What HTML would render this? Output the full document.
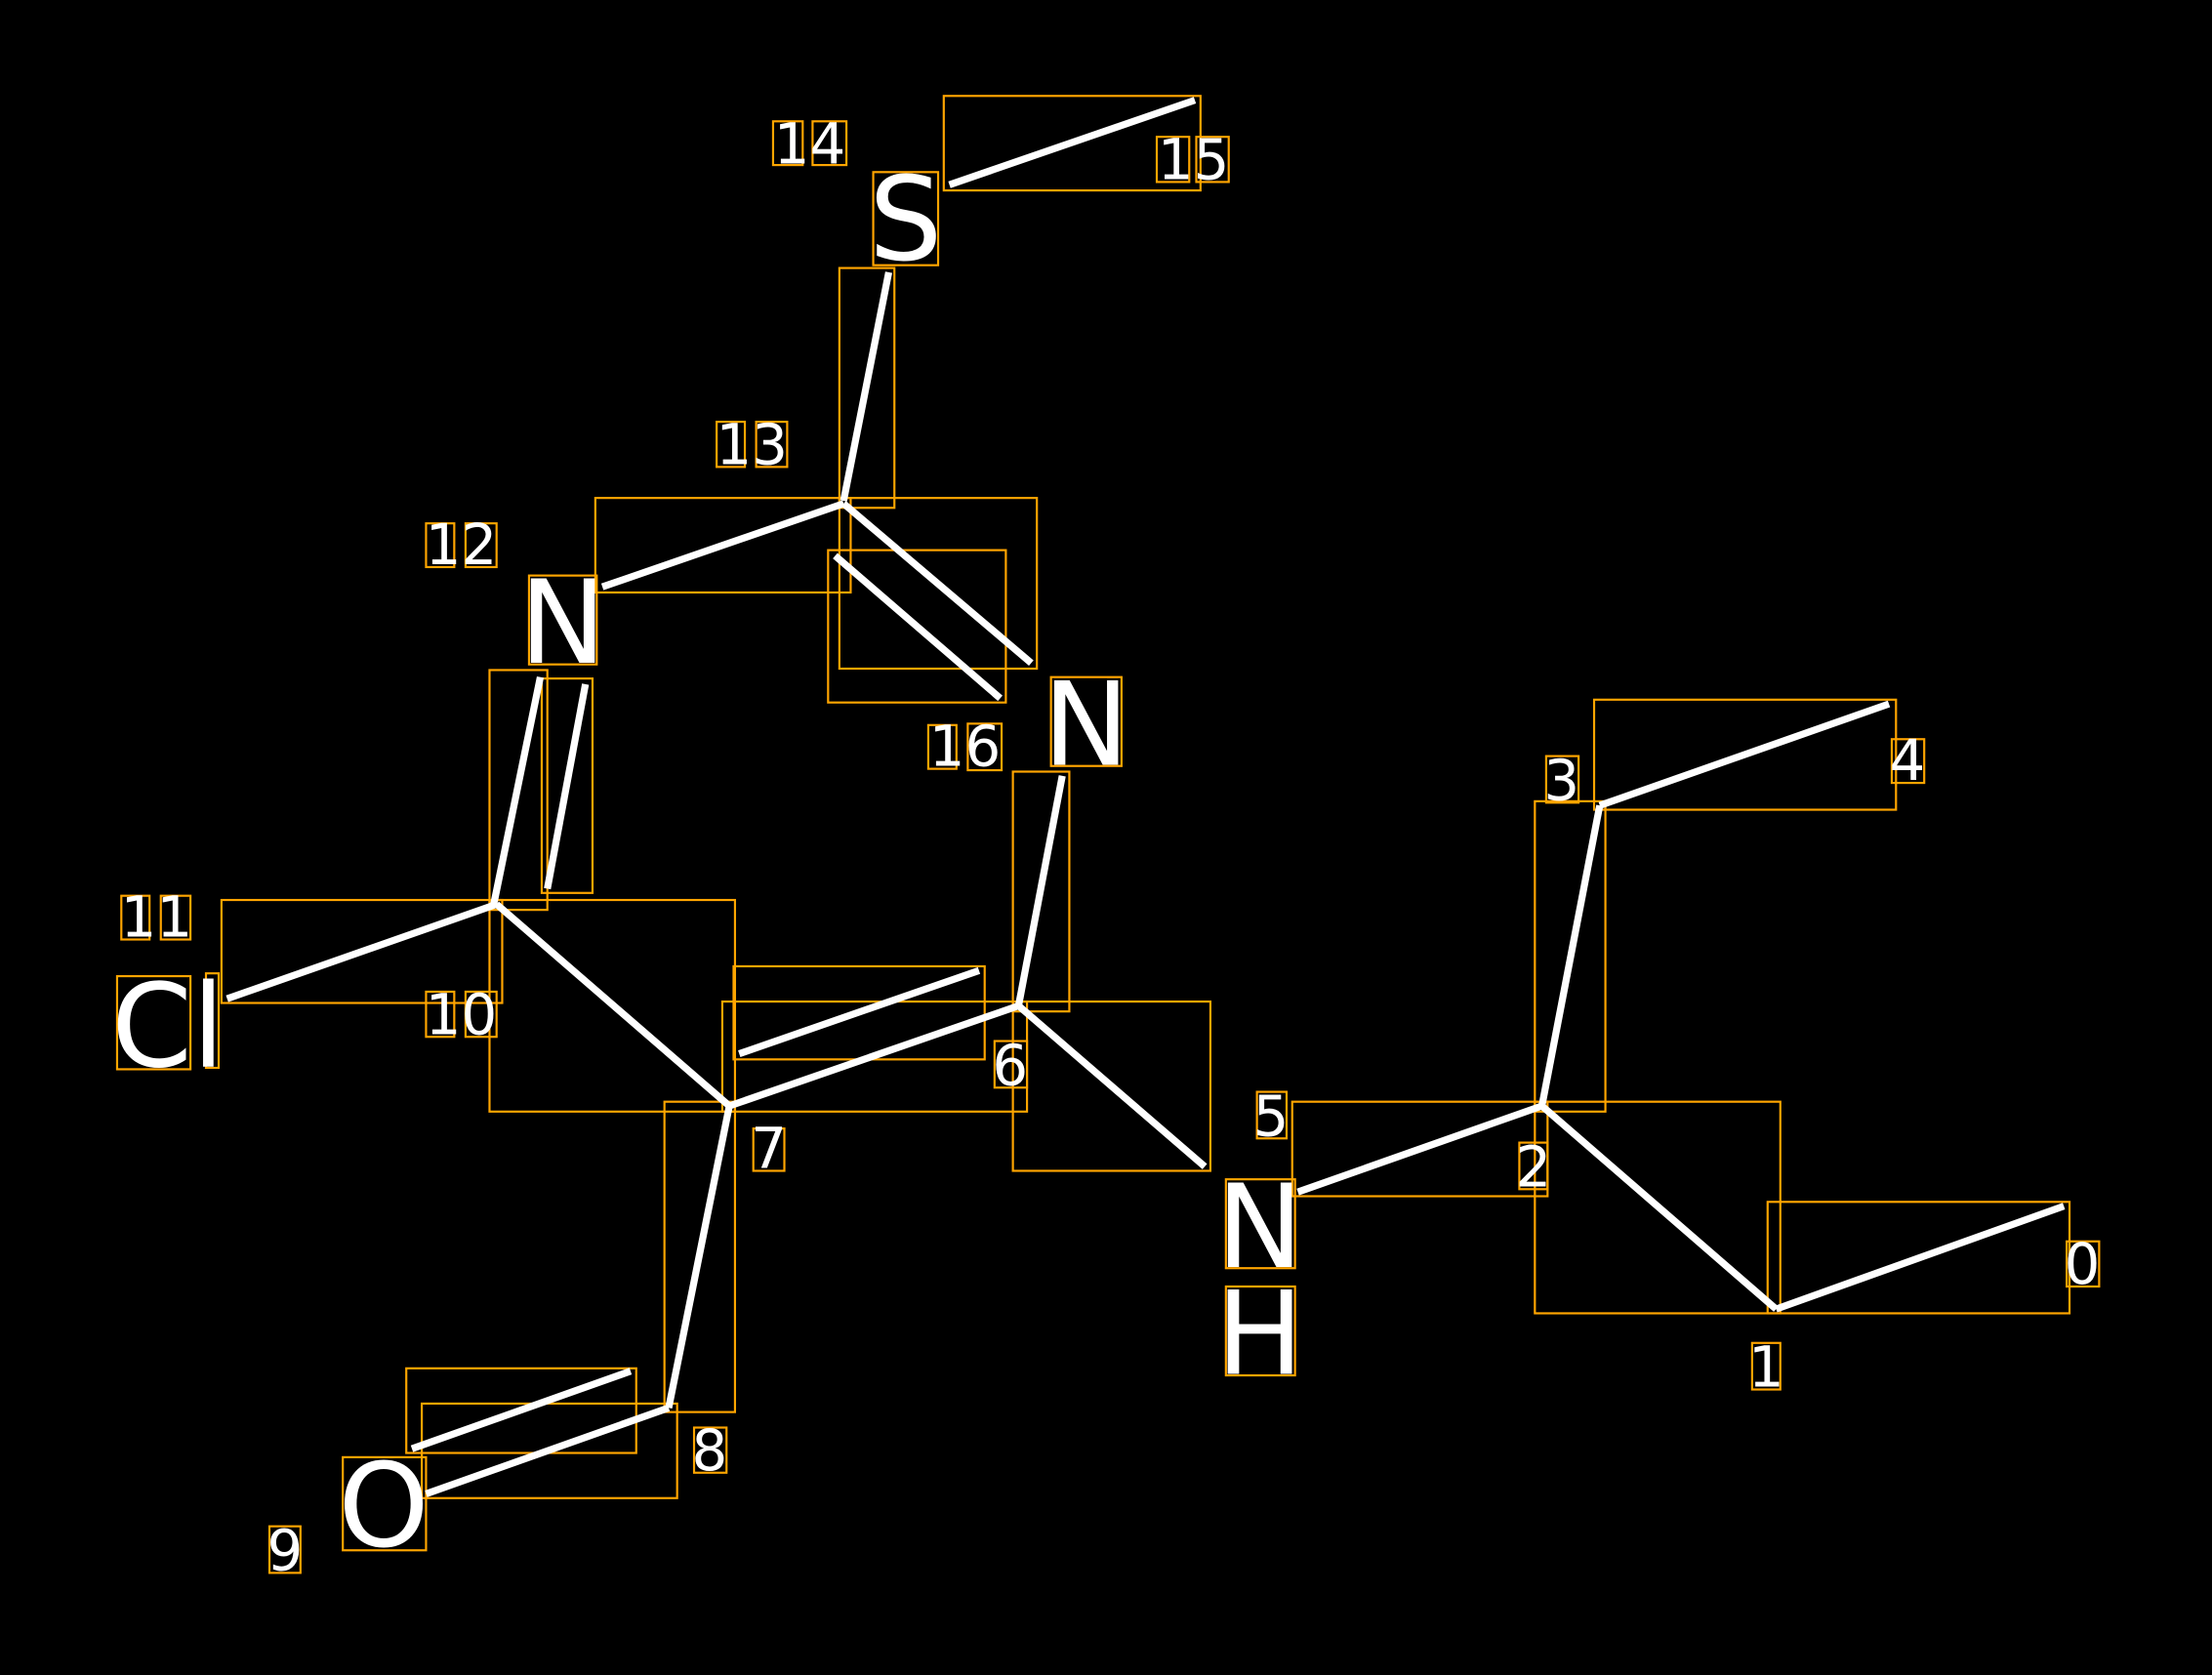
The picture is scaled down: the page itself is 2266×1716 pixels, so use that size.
<!DOCTYPE html>
<html><head><meta charset="utf-8"><style>
html,body{margin:0;padding:0;background:#000;}
svg{display:block}
text{font-family:"DejaVu Sans","Liberation Sans",sans-serif;fill:#fff}
</style></head><body>
<svg width="2266" height="1716" viewBox="0 0 1568 1187.4" preserveAspectRatio="none" xmlns="http://www.w3.org/2000/svg">
<rect width="1568" height="1187.4" fill="#000"/>
<g fill="none" stroke="#FFA500" stroke-width="1.5">
<rect x="669" y="68" width="182" height="67"/>
<rect x="595" y="190" width="39" height="170"/>
<rect x="422" y="353" width="181" height="67"/>
<rect x="595" y="353" width="140" height="121"/>
<rect x="587" y="390" width="126" height="108"/>
<rect x="347" y="475" width="41" height="170"/>
<rect x="384" y="481" width="36" height="152"/>
<rect x="157" y="638" width="199" height="73"/>
<rect x="347" y="638" width="174" height="150"/>
<rect x="512" y="710" width="216" height="78"/>
<rect x="520" y="685" width="178" height="66"/>
<rect x="718" y="547" width="40" height="170"/>
<rect x="718" y="710" width="140" height="120"/>
<rect x="471" y="781" width="50" height="220"/>
<rect x="299" y="995" width="181" height="67"/>
<rect x="288" y="970" width="163" height="60"/>
<rect x="916" y="781" width="181" height="67"/>
<rect x="1088" y="568" width="50" height="220"/>
<rect x="1130" y="496" width="214" height="78"/>
<rect x="1088" y="781" width="174" height="150"/>
<rect x="1253" y="852" width="214" height="79"/>
<rect x="619" y="122" width="46" height="66"/>
<rect x="375" y="408" width="48" height="63"/>
<rect x="745" y="480" width="50" height="63"/>
<rect x="83" y="692" width="52" height="66"/>
<rect x="146" y="690" width="9" height="67"/>
<rect x="243" y="1033" width="59" height="66"/>
<rect x="869" y="836" width="49" height="63"/>
<rect x="869" y="912" width="49" height="63"/>
<rect x="548" y="86" width="21" height="31"/><rect x="576" y="86" width="24" height="31"/>
<rect x="820" y="97" width="23" height="32"/><rect x="848" y="97" width="23" height="32"/>
<rect x="508" y="299" width="20" height="32"/><rect x="536" y="299" width="22" height="32"/>
<rect x="302" y="371" width="20" height="31"/><rect x="330" y="371" width="22" height="31"/>
<rect x="658" y="514" width="20" height="31"/><rect x="686" y="513" width="24" height="33"/>
<rect x="86" y="635" width="20" height="31"/><rect x="114" y="635" width="21" height="31"/>
<rect x="302" y="703" width="20" height="32"/><rect x="330" y="703" width="22" height="32"/>
<rect x="705" y="738" width="23" height="33"/>
<rect x="534" y="800" width="22" height="30"/>
<rect x="891" y="774" width="21" height="33"/>
<rect x="1077" y="810" width="20" height="33"/>
<rect x="1096" y="536" width="23" height="33"/>
<rect x="1341" y="524" width="23" height="31"/>
<rect x="1465" y="880" width="23" height="32"/>
<rect x="1242" y="952" width="20" height="33"/>
<rect x="492" y="1012" width="23" height="32"/>
<rect x="191" y="1082" width="22" height="33"/>
</g>
<g stroke="#fff" stroke-width="5" fill="none">
<line x1="673" y1="131" x2="847" y2="71"/>
<line x1="630" y1="193" x2="598" y2="355"/>
<line x1="427" y1="416" x2="598" y2="357"/>
<line x1="598" y1="357" x2="731" y2="470"/>
<line x1="592" y1="394" x2="709" y2="495"/>
<line x1="383" y1="480" x2="350" y2="641"/>
<line x1="415" y1="485" x2="388" y2="630"/>
<line x1="161" y1="708" x2="352" y2="641"/>
<line x1="352" y1="641" x2="517" y2="784"/>
<line x1="517" y1="784" x2="722" y2="713"/>
<line x1="524" y1="747" x2="694" y2="688"/>
<line x1="753" y1="550" x2="722" y2="713"/>
<line x1="722" y1="713" x2="854" y2="827"/>
<line x1="517" y1="784" x2="474" y2="998"/>
<line x1="474" y1="998" x2="302" y2="1059"/>
<line x1="292" y1="1027" x2="447" y2="972"/>
<line x1="920" y1="845" x2="1093" y2="784"/>
<line x1="1093" y1="784" x2="1134" y2="571"/>
<line x1="1134" y1="571" x2="1339" y2="499"/>
<line x1="1093" y1="784" x2="1259" y2="928"/>
<line x1="1259" y1="928" x2="1463" y2="855"/>
</g>
<g font-size="82" text-anchor="middle">
<text x="642" y="184">S</text>
<text x="399" y="470">N</text>
<text x="770" y="542">N</text>
<text x="119" y="756">Cl</text>
<text x="272" y="1096">O</text>
<text x="893" y="898">N</text>
<text x="893" y="974">H</text>
</g>
<g font-size="40" text-anchor="middle">
<text x="574" y="116">14</text>
<text x="846" y="127">15</text>
<text x="533" y="329">13</text>
<text x="327" y="400">12</text>
<text x="684" y="543">16</text>
<text x="111" y="664">11</text>
<text x="327" y="733">10</text>
<text x="716" y="769">6</text>
<text x="545" y="828">7</text>
<text x="901" y="805">5</text>
<text x="1087" y="841">2</text>
<text x="1107" y="567">3</text>
<text x="1352" y="553">4</text>
<text x="1476" y="910">0</text>
<text x="1252" y="983">1</text>
<text x="503" y="1042">8</text>
<text x="202" y="1113">9</text>
</g>
</svg>
</body></html>
